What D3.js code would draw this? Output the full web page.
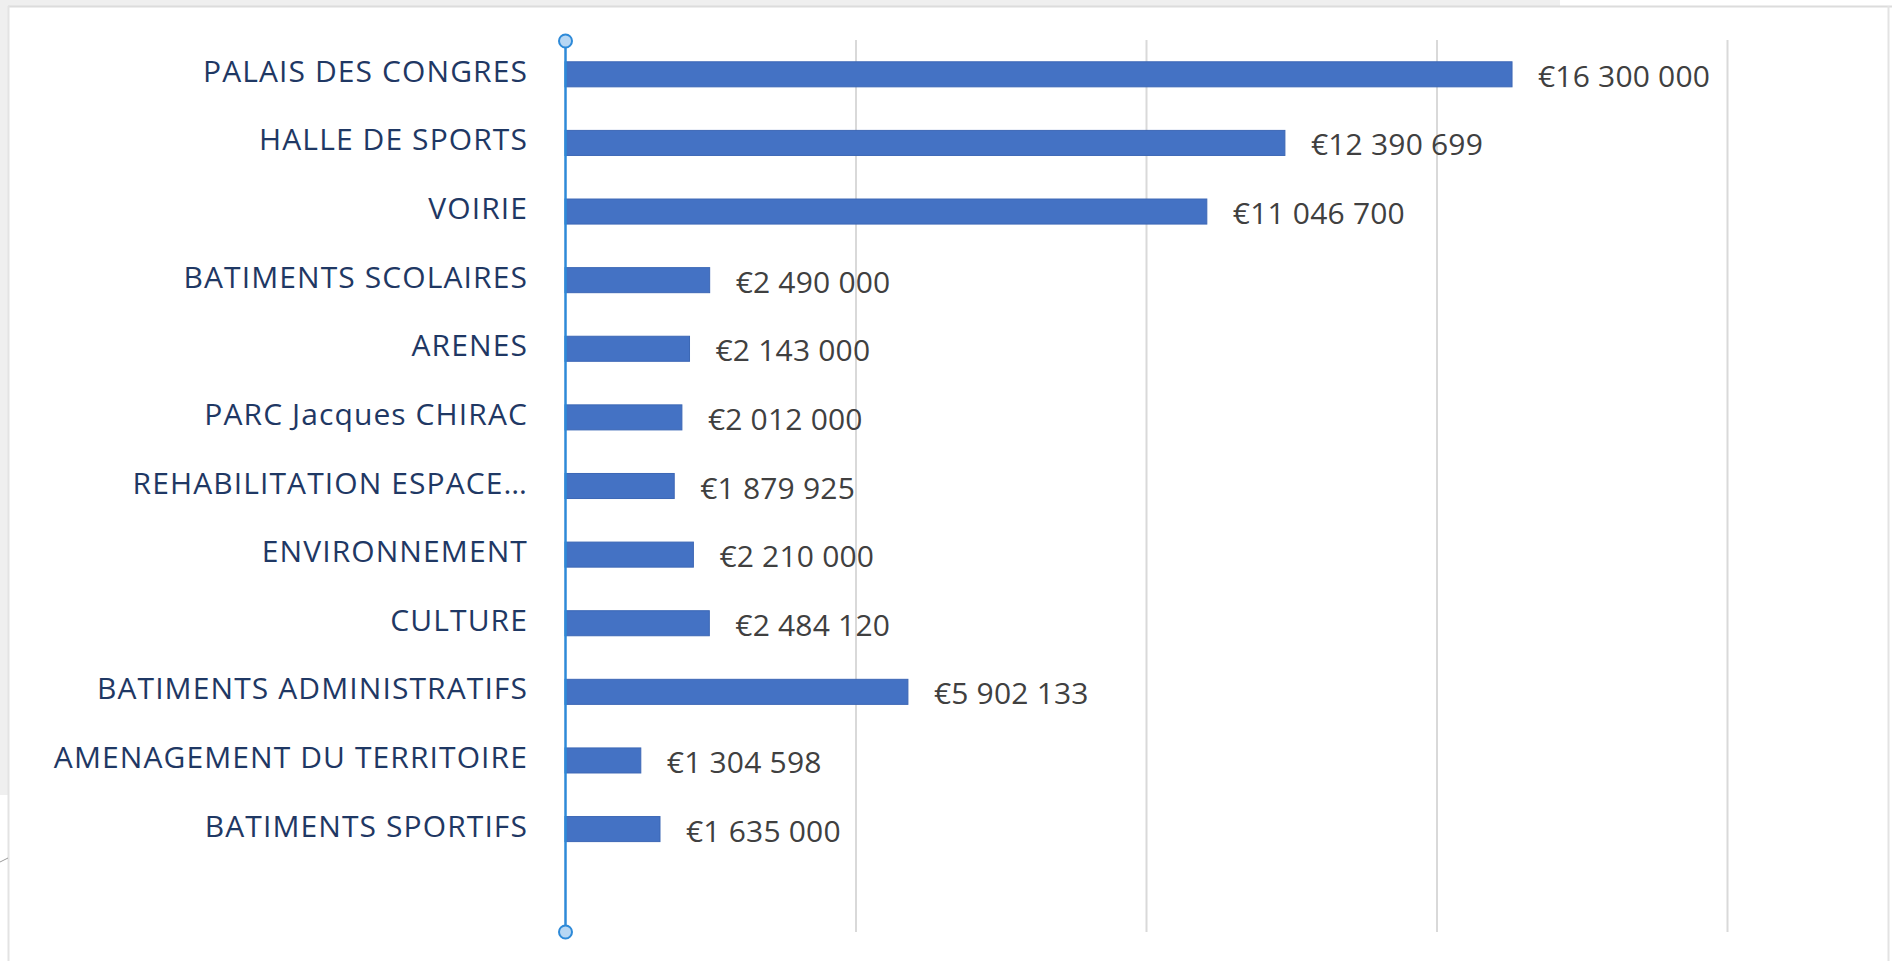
<!DOCTYPE html>
<html lang="fr">
  <head>
    <meta charset="UTF-8" />
    <title>Investissements par poste</title>
    <style>
      body {
        margin: 0;
        background-color: #ffffff;
        font-family: "Open Sans", sans-serif;
      }
      svg {
        display: block;
      }
      .grid line {
        stroke: #d9d9d9;
        stroke-width: 2px;
      }
      .cat-label {
        fill: #1f3864;
        font-size: 30px;
        letter-spacing: 1.1px;
      }
      .value-label {
        fill: #404040;
        font-size: 30px;
        letter-spacing: 0.2px;
      }
    </style>
  </head>
  <body>
    <svg id="chart"></svg>

    <script src="https://d3js.org/d3.v7.min.js"></script>
    <script>
      const width = 1892;
      const height = 961;

      const categories = [
        "PALAIS DES CONGRES",
        "HALLE DE SPORTS",
        "VOIRIE",
        "BATIMENTS SCOLAIRES",
        "ARENES",
        "PARC Jacques CHIRAC",
        "REHABILITATION ESPACE…",
        "ENVIRONNEMENT",
        "CULTURE",
        "BATIMENTS ADMINISTRATIFS",
        "AMENAGEMENT DU TERRITOIRE",
        "BATIMENTS SPORTIFS",
      ];
      const amounts = [
        16300000, 12390699, 11046700, 2490000, 2143000, 2012000, 1879925,
        2210000, 2484120, 5902133, 1304598, 1635000,
      ];
      const gridTicks = [0, 5000000, 10000000, 15000000, 20000000];

      const data = categories.map((name, i) => ({ name, value: amounts[i] }));

      // plot area (the source chart leaves one empty row slot at the bottom)
      const plotLeft = 565;
      const plotRight = 1727;
      const plotTop = 40;
      const plotBottom = 932;
      const step = (plotBottom - plotTop) / (categories.length + 1);

      const euro = d3.formatLocale({
        decimal: ",",
        thousands: " ",
        grouping: [3],
        currency: ["€", ""],
      }).format("$,.0f");

      const svg = d3
        .select("#chart")
        .attr("width", width)
        .attr("height", height);

      // window frame around the chart (screenshot look)
      svg.append("rect").attr("x", 0).attr("y", 0).attr("width", 1560).attr("height", 6).attr("fill", "#efefef");
      svg.append("rect").attr("x", 0).attr("y", 0).attr("width", 8).attr("height", 795).attr("fill", "#efefef");
      svg.append("line").attr("x1", 8).attr("x2", 1892).attr("y1", 6.5).attr("y2", 6.5).attr("stroke", "#dcdcdc").attr("stroke-width", 2);
      svg.append("line").attr("x1", 8.5).attr("x2", 8.5).attr("y1", 6).attr("y2", height).attr("stroke", "#e3e3e3").attr("stroke-width", 2);
      svg.append("line").attr("x1", 1888.5).attr("x2", 1888.5).attr("y1", 6).attr("y2", height).attr("stroke", "#e3e3e3").attr("stroke-width", 2);
      svg.append("line").attr("x1", 0).attr("x2", 8).attr("y1", 862).attr("y2", 858).attr("stroke", "#9a9a9a").attr("stroke-width", 1);

      const x = d3.scaleLinear().domain([0, 20000000]).range([plotLeft, plotRight]);

      const y = d3
        .scaleBand()
        .domain(categories)
        .range([plotTop, plotTop + step * categories.length])
        .paddingInner(0.635)
        .paddingOuter(0.3175);

      // vertical gridlines
      svg
        .append("g")
        .attr("class", "grid")
        .attr("transform", `translate(0,${plotBottom})`)
        .call(
          d3
            .axisBottom(x)
            .tickValues(gridTicks.slice(1))
            .tickSize(-(plotBottom - plotTop))
            .tickFormat("")
        )
        .call((g) => g.select(".domain").remove());

      // bars
      svg
        .selectAll("rect.bar")
        .data(data)
        .join("rect")
        .attr("class", "bar")
        .attr("x", x(0))
        .attr("y", (d) => y(d.name))
        .attr("width", (d) => x(d.value) - x(0))
        .attr("height", y.bandwidth())
        .attr("fill", "#4472c4")
        .attr("stroke", "#3c67b5")
        .attr("stroke-width", 1);

      // value labels
      svg
        .selectAll("text.value-label")
        .data(data)
        .join("text")
        .attr("class", "value-label")
        .attr("x", (d) => x(d.value) + 26)
        .attr("y", (d) => y(d.name) + y.bandwidth() / 2 + 2)
        .attr("dy", "0.35em")
        .text((d) => euro(d.value));

      // category axis (selected line with handles)
      const axisX = x(0) + 0.5;
      svg
        .append("line")
        .attr("x1", axisX)
        .attr("x2", axisX)
        .attr("y1", plotTop + 1)
        .attr("y2", plotBottom)
        .attr("stroke", "#2e8ad8")
        .attr("stroke-width", 2.5);

      svg
        .selectAll("circle.handle")
        .data([plotTop + 1, plotBottom])
        .join("circle")
        .attr("class", "handle")
        .attr("cx", axisX)
        .attr("cy", (d) => d)
        .attr("r", 6.5)
        .attr("fill", "#b7d7f4")
        .attr("stroke", "#2e8ad8")
        .attr("stroke-width", 2);

      svg
        .selectAll("text.cat-label")
        .data(data)
        .join("text")
        .attr("class", "cat-label")
        .attr("x", plotLeft - 37)
        .attr("y", (d) => y(d.name) + y.bandwidth() / 2 - 3)
        .attr("dy", "0.35em")
        .attr("text-anchor", "end")
        .text((d) => d.name);
    </script>
  </body>
</html>
